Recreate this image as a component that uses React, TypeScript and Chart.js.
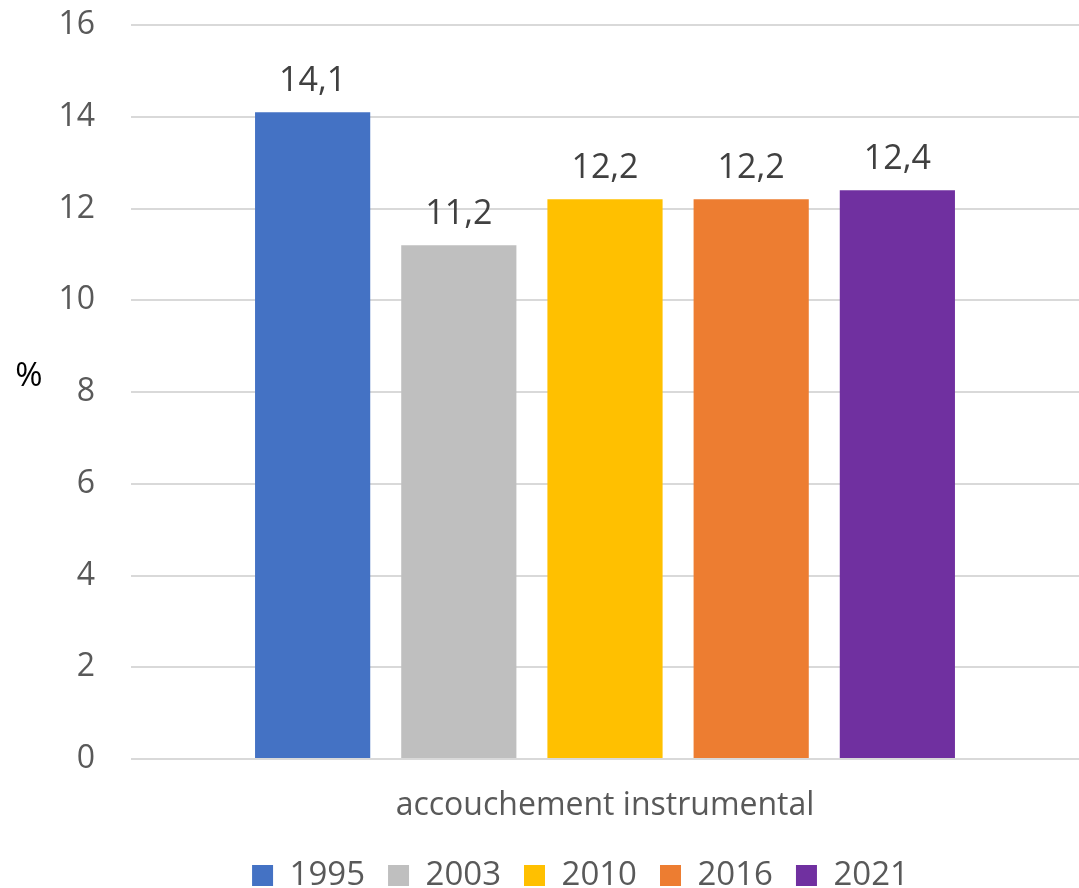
import React, { useEffect, useRef } from "react";
import { Chart, registerables } from "chart.js";

Chart.register(...registerables);

const categories = ["accouchement instrumental"];
const years = ["1995", "2003", "2010", "2016", "2021"];
const values = [14.1, 11.2, 12.2, 12.2, 12.4];
const colors = ["#4472C4", "#BFBFBF", "#FFC000", "#ED7D31", "#7030A0"];
const yTicks = [0, 2, 4, 6, 8, 10, 12, 14, 16];

const FONT = "'Open Sans', 'Noto Sans', sans-serif";

const fmt = (v: number) => v.toFixed(1).replace(".", ",");

// Writes each bar's value just above it
const valueLabels = {
  id: "valueLabels",
  afterDatasetsDraw(chart: any) {
    const ctx = chart.ctx;
    ctx.save();
    ctx.font = `34px ${FONT}`;
    ctx.fillStyle = "#404040";
    ctx.textAlign = "center";
    ctx.textBaseline = "alphabetic";
    chart.data.datasets.forEach((ds: any, i: number) => {
      const meta = chart.getDatasetMeta(i);
      meta.data.forEach((bar: any, j: number) => {
        ctx.fillText(fmt(ds.data[j]), bar.x, bar.y - 21);
      });
    });
    ctx.restore();
  },
};

// Horizontal unit label on the left of the value axis
const unitLabel = {
  id: "unitLabel",
  afterDraw(chart: any) {
    const ctx = chart.ctx;
    const area = chart.chartArea;
    ctx.save();
    ctx.font = `33px ${FONT}`;
    ctx.fillStyle = "#000000";
    ctx.textAlign = "center";
    ctx.textBaseline = "middle";
    ctx.fillText("%", 29, area.top + (area.bottom - area.top) * 0.479);
    ctx.restore();
  },
};

// Moves the legend row a little to the right of the canvas centre
const legendShift = {
  id: "legendShift",
  afterLayout(chart: any) {
    const lg = chart.legend;
    if (lg) {
      lg.left += 41;
      lg.right += 41;
    }
  },
};

export default function App() {
  const ref = useRef<HTMLCanvasElement | null>(null);

  useEffect(() => {
    document.body.style.margin = "0";
    const canvas = ref.current;
    if (!canvas) return;
    const chart = new Chart(canvas, {
      type: "bar",
      data: {
        labels: categories,
        datasets: years.map((y, i) => ({
          label: y,
          data: [values[i]],
          backgroundColor: colors[i],
          borderWidth: 0,
          categoryPercentage: 0.771,
          barPercentage: 0.788,
        })),
      },
      options: {
        responsive: false,
        animation: false,
        layout: { padding: { top: 25, right: 0, left: 0, bottom: 0 } },
        plugins: {
          legend: {
            position: "bottom",
            maxHeight: 52,
            labels: {
              boxWidth: 21,
              boxHeight: 21,
              padding: 23,
              color: "#595959",
              font: { family: FONT, size: 33 },
            },
          },
          tooltip: { enabled: false },
        },
        scales: {
          x: {
            grid: { display: false, drawTicks: false },
            border: { display: false },
            afterFit: (scale: any) => {
              scale.height = 77;
            },
            ticks: {
              color: "#595959",
              font: { family: FONT, size: 32 },
              padding: 28,
            },
          },
          y: {
            min: 0,
            max: 16,
            afterBuildTicks: (scale: any) => {
              scale.ticks = yTicks.map((v) => ({ value: v }));
            },
            afterFit: (scale: any) => {
              scale.width = 131;
              scale.paddingTop = 0;
              scale.paddingBottom = 0;
            },
            grid: { color: "#D9D9D9", lineWidth: 2, drawTicks: false },
            border: { display: false },
            ticks: {
              color: "#595959",
              font: { family: FONT, size: 32 },
              padding: 36,
            },
          },
        },
      },
      plugins: [valueLabels, unitLabel, legendShift],
    });
    return () => chart.destroy();
  }, []);

  return (
    <div style={{ position: "fixed", left: 0, top: 0, width: 1079, height: 888, background: "#fff" }}>
      <canvas ref={ref} width={1079} height={888} style={{ display: "block" }} />
    </div>
  );
}
